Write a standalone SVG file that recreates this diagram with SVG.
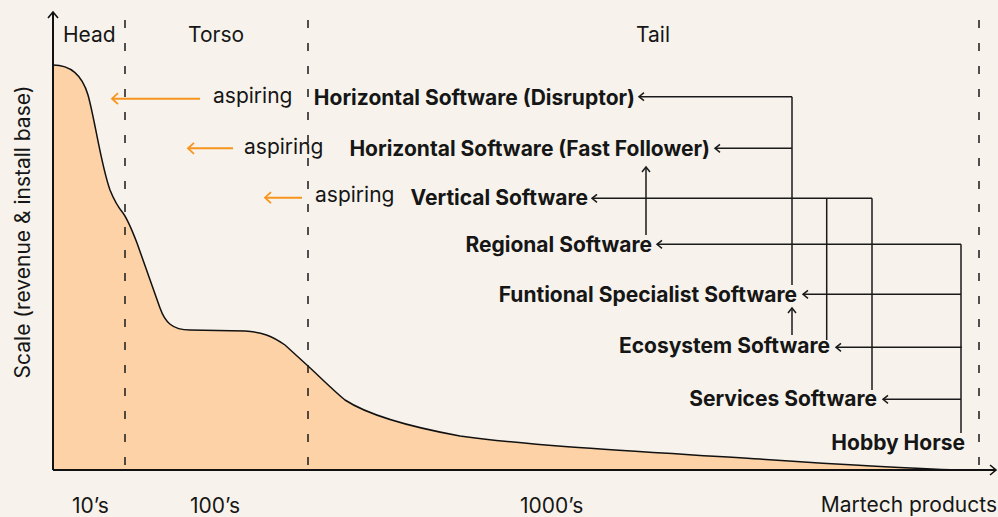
<svg xmlns="http://www.w3.org/2000/svg" width="998" height="517" viewBox="0 0 998 517">
  <style>
    .reg { font-family: Inter, "Noto Sans", "Liberation Sans", sans-serif; font-size: 21px; fill: #161616; }
    .bold { font-family: Inter, "Noto Sans", "Liberation Sans", sans-serif; font-size: 21px; font-weight: 700; fill: #161616; }
    .conn { stroke: #1a1a1a; stroke-width: 1.5; fill: none; }
    .arr { marker-end: url(#ah); }
    .asp { stroke: #F7941E; stroke-width: 2; fill: none; marker-end: url(#aho); }
    .dash { stroke: #1a1a1a; stroke-width: 1.5; stroke-dasharray: 8 15; fill: none; }
    .axis { stroke: #111; stroke-width: 2; fill: none; marker-end: url(#axh); }
  </style>
  <defs>
    <marker id="ah" viewBox="-8 -6 10 12" refX="0" refY="0" markerWidth="10" markerHeight="12" markerUnits="userSpaceOnUse" orient="auto">
      <path d="M-5,-4 L0,0 L-5,4" fill="none" stroke="#1a1a1a" stroke-width="1.5"/>
    </marker>
    <marker id="aho" viewBox="-8 -7 10 14" refX="0" refY="0" markerWidth="10" markerHeight="14" markerUnits="userSpaceOnUse" orient="auto">
      <path d="M-6,-5.5 L0,0 L-6,5.5" fill="none" stroke="#F7941E" stroke-width="1.8"/>
    </marker>
    <marker id="axh" viewBox="-8 -7 10 14" refX="0" refY="0" markerWidth="10" markerHeight="14" markerUnits="userSpaceOnUse" orient="auto">
      <path d="M-6,-5 L0,0 L-6,5" fill="none" stroke="#111" stroke-width="1.6"/>
    </marker>
  </defs>
  <rect width="998" height="517" fill="#F7F3EC"/>

  <g id="curve">
    <path d="M53,65 C73,65 83,78 88,95 C95,120 101,165 110,190 C114,200 118,207 123,213 C128,220 132,230 137,243 L160,308 C165,322 172,330 190,330 L245,331 C262,332 272,336 285,345 L308,366 C320,377 333,390 345,400 C365,413 400,425 460,436 C540,447 650,452 760,459 C850,465 900,468 960,470 L53,470 Z" fill="#FDD2A7" stroke="none"/>
    <path d="M53,65 C73,65 83,78 88,95 C95,120 101,165 110,190 C114,200 118,207 123,213 C128,220 132,230 137,243 L160,308 C165,322 172,330 190,330 L245,331 C262,332 272,336 285,345 L308,366 C320,377 333,390 345,400 C365,413 400,425 460,436 C540,447 650,452 760,459 C850,465 900,468 960,470" fill="none" stroke="#111" stroke-width="1.5"/>
  </g>

  <g id="dividers">
    <line class="dash" x1="125" y1="13" x2="125" y2="470" stroke-dashoffset="-7"/>
    <line class="dash" x1="308" y1="13" x2="308" y2="470" stroke-dashoffset="-7"/>
    <line class="dash" x1="979" y1="13" x2="979" y2="470" stroke-dashoffset="-7"/>
  </g>

  <g id="axes">
    <line class="axis" x1="53" y1="470" x2="53" y2="12"/>
    <line class="axis" x1="53" y1="470" x2="996" y2="470"/>
  </g>

  <g id="section-labels">
    <text class="reg" x="63" y="42">Head</text>
    <text class="reg" x="188" y="42">Torso</text>
    <text class="reg" x="636" y="42">Tail</text>
    <text class="reg" x="72" y="513">10’s</text>
    <text class="reg" x="190" y="513">100’s</text>
    <text class="reg" x="520" y="513">1000’s</text>
    <text class="reg" x="997" y="512" text-anchor="end">Martech products</text>
    <text class="reg" transform="translate(30,232) rotate(-90)" text-anchor="middle">Scale (revenue &amp; install base)</text>
  </g>

  <g id="aspiring">
    <text class="reg" x="213" y="103">aspiring</text>
    <text class="reg" x="244" y="154">aspiring</text>
    <text class="reg" x="315" y="202">aspiring</text>
    <line class="asp" x1="200" y1="98.7" x2="112" y2="98.7"/>
    <line class="asp" x1="233" y1="148.3" x2="188" y2="148.3"/>
    <line class="asp" x1="302" y1="197.7" x2="265" y2="197.7"/>
  </g>

  <g id="node-disruptor"><text class="bold" x="635" y="105" text-anchor="end">Horizontal Software (Disruptor)</text></g>
  <g id="node-fastfollower"><text class="bold" x="710" y="156" text-anchor="end">Horizontal Software (Fast Follower)</text></g>
  <g id="node-vertical"><text class="bold" x="588" y="205" text-anchor="end">Vertical Software</text></g>
  <g id="node-regional"><text class="bold" x="652" y="252" text-anchor="end">Regional Software</text></g>
  <g id="node-functional"><text class="bold" x="797" y="302" text-anchor="end">Funtional Specialist Software</text></g>
  <g id="node-ecosystem"><text class="bold" x="830" y="353" text-anchor="end">Ecosystem Software</text></g>
  <g id="node-services"><text class="bold" x="877" y="405.5" text-anchor="end">Services Software</text></g>
  <g id="node-hobby"><text class="bold" x="965" y="450" text-anchor="end">Hobby Horse</text></g>

  <g id="connectors">
    <path class="conn" d="M792,285 L792,96.7"/>
    <path class="conn arr" d="M792,96.7 L639,96.7"/>
    <path class="conn arr" d="M792,148.3 L715,148.3"/>
    <path class="conn arr" d="M646,235 L646,167"/>
    <path class="conn arr" d="M872,198.3 L592,198.3"/>
    <path class="conn" d="M826.7,198.3 L826.7,340"/>
    <path class="conn" d="M872,198.3 L872,390"/>
    <path class="conn arr" d="M792,335 L792,308"/>
    <path class="conn" d="M961,433 L961,244.3"/>
    <path class="conn arr" d="M961,244.3 L657,244.3"/>
    <path class="conn arr" d="M961,294.3 L803,294.3"/>
    <path class="conn arr" d="M962,347.3 L836,347.3"/>
    <path class="conn arr" d="M961,399.3 L883,399.3"/>
  </g>
</svg>
